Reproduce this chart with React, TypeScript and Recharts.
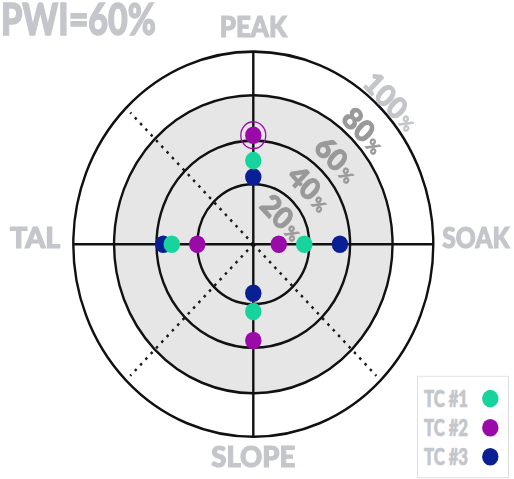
import React from 'react';
import {
  RadarChart,
  Radar,
  PolarGrid,
  PolarAngleAxis,
  PolarRadiusAxis,
  PieChart,
  Pie,
  Legend,
} from 'recharts';

// Profile axes, clockwise from the top
const AXES = ['PEAK', 'SOAK', 'SLOPE', 'TAL'];

// Share of the process window used by each thermocouple (%)
const TC1 = [46, 30, 37, 48];
const TC2 = [60, 15, 53, 33];
const TC3 = [37, 51, 27, 53];

// Percent scale printed along the diagonal
const SCALE_TICKS = [20, 40, 60, 80, 100];
// Reference rings of the target
const RING_LEVELS = [33, 57, 82, 106];
const RADIUS_DOMAIN: [number, number] = [0, 106];

const SERIES = [
  { key: 'tc1', name: 'TC #1', color: '#17d49c' },
  { key: 'tc2', name: 'TC #2', color: '#9a0aa8' },
  { key: 'tc3', name: 'TC #3', color: '#0b1f95' },
];

const DATA = AXES.map((axis, i) => ({ axis, tc1: TC1[i], tc2: TC2[i], tc3: TC3[i] }));
const PWI = Math.max(...TC1, ...TC2, ...TC3);
const DISK = [{ name: 'window', value: 1 }];

const W = 514;
const H = 479;
const CX = 253.3;
const CY = 244.2;
const R_OUTER = 180;
const R_DISK = 139;
const R_DIAG = 174;
const STRETCH = 1.07;
const FONT = 'Lato, Roboto, "Liberation Sans", sans-serif';
const LABEL_GRAY = '#c4c6cb';
const LINE = '#111';

const layer: React.CSSProperties = { position: 'absolute', left: 0, top: 0 };
const MARGIN = { top: 0, right: 0, bottom: 0, left: 0 };

const AngleTick = (props: any) => {
  const { x, y, payload, textAnchor } = props;
  const label = String(payload.value);
  let dx = 0;
  let dy = 0;
  if (textAnchor === 'start') {
    dx = 1;
    dy = 4;
  } else if (textAnchor === 'end') {
    dx = -5;
    dy = 4;
  } else if (y < CY) {
    dy = -6;
  } else {
    dy = 20;
  }
  return (
    <text
      x={x + dx}
      y={y + dy}
      textAnchor={textAnchor}
      fill={LABEL_GRAY}
      stroke={LABEL_GRAY}
      strokeWidth={1}
      fontFamily={FONT}
      fontWeight={900}
      fontSize={26}
      textLength={label.length * 16.8}
      lengthAdjust="spacingAndGlyphs"
    >
      {label}
    </text>
  );
};

const PercentTick = (props: any) => {
  const { x, y, payload } = props;
  const r = Math.hypot(x - CX, y - CY);
  const push = r * 0.13;
  const px = x + Math.SQRT1_2 * push + Math.SQRT1_2 * 3;
  const py = y - Math.SQRT1_2 * push + Math.SQRT1_2 * 3;
  const fs = 28;
  const color = payload.value === 100 ? '#c3c5c9' : '#999999';
  return (
    <text
      x={px}
      y={py}
      dy={fs * 0.36}
      transform={`rotate(45 ${px} ${py})`}
      textAnchor="middle"
      fill={color}
      stroke={color}
      strokeWidth={1}
      fontFamily={FONT}
      fontWeight={900}
      fontSize={fs}
    >
      {payload.value}
      <tspan fontSize={16} dx={2} strokeWidth={0.6}>%</tspan>
    </text>
  );
};

const makeDot = (color: string) => (props: any) => {
  const { cx, cy, index } = props;
  const v =
    props.payload && typeof props.payload.value === 'number' ? props.payload.value : props.value;
  return (
    <g key={`dot-${color}-${index}`}>
      {v === PWI && (
        <circle cx={cx} cy={cy} r={12.5} fill="none" stroke={color} strokeWidth={1.3} />
      )}
      <circle cx={cx} cy={cy} r={8.2} fill={color} />
    </g>
  );
};

const LegendBox = () => (
  <svg width={92} height={96}>
    <rect x={0.5} y={0.5} width={91} height={95} fill="#fff" stroke="#dedede" />
    {SERIES.map((s, i) => {
      const yc = 21.5 + i * 27.2;
      return (
        <g key={s.key}>
          <text
            x={7}
            y={yc + 7.8}
            fill={LABEL_GRAY}
            stroke={LABEL_GRAY}
            strokeWidth={0.7}
            fontFamily={FONT}
            fontWeight={900}
            fontSize={22}
            textLength={44}
            lengthAdjust="spacingAndGlyphs"
          >
            {s.name}
          </text>
          <circle cx={73.3} cy={yc} r={8.2} fill={s.color} />
        </g>
      );
    })}
  </svg>
);

export default function App() {
  return (
    <div
      style={{
        position: 'absolute',
        left: 0,
        top: 0,
        width: W,
        height: H,
        overflow: 'hidden',
        background: '#fff',
      }}
    >
      <div
        style={{
          ...layer,
          width: W,
          height: H,
          transform: `scaleY(${STRETCH})`,
          transformOrigin: `${CX}px ${CY}px`,
        }}
      >
        {/* shaded process window */}
        <div style={layer}>
          <PieChart width={W} height={H} margin={MARGIN}>
            <Pie
              data={DISK}
              dataKey="value"
              cx={CX}
              cy={CY}
              innerRadius={0}
              outerRadius={R_DISK}
              startAngle={0}
              endAngle={360}
              fill="#e6e6e6"
              stroke="none"
              isAnimationActive={false}
              label={false}
              labelLine={false}
            />
          </PieChart>
        </div>

        {/* dotted diagonals */}
        <div style={layer}>
          <RadarChart width={W} height={H} data={DATA} cx={CX} cy={CY} outerRadius={R_DIAG} margin={MARGIN}>
            <PolarGrid
              gridType="circle"
              polarRadius={[]}
              polarAngles={[135, 225, 315]}
              stroke="#1a1a1a"
              strokeWidth={2.4}
              strokeDasharray="2.5 5"
            />
          </RadarChart>
        </div>

        {/* rings, axes and thermocouple readings */}
        <div style={layer}>
          <RadarChart width={W} height={H} data={DATA} cx={CX} cy={CY} outerRadius={R_OUTER} margin={MARGIN}>
            <PolarGrid
              gridType="circle"
              polarAngles={[0, 90, 180, 270]}
              stroke={LINE}
              strokeWidth={2.4}
            />
            <PolarAngleAxis dataKey="axis" tick={AngleTick} axisLine={false} tickLine={false} />
            <PolarRadiusAxis
              domain={RADIUS_DOMAIN}
              allowDataOverflow
              ticks={RING_LEVELS as any}
              tick={false}
              axisLine={false}
            />
            <PolarRadiusAxis
              radiusAxisId="pct"
              domain={RADIUS_DOMAIN}
              allowDataOverflow
              ticks={SCALE_TICKS as any}
              angle={45}
              tick={PercentTick}
              axisLine={false}
            />
            {[...SERIES].reverse().map((s) => (
              <Radar
                key={s.key}
                name={s.name}
                dataKey={s.key}
                stroke="none"
                fill="none"
                dot={makeDot(s.color)}
                isAnimationActive={false}
              />
            ))}
            <Legend
              content={<LegendBox />}
              wrapperStyle={{ left: 416.7, top: 366.5, width: 92, height: 96 }}
            />
          </RadarChart>
        </div>
      </div>

      <svg width={220} height={48} style={{ position: 'absolute', left: 0, top: 0 }}>
        <text
          x={1}
          y={35}
          fill={LABEL_GRAY}
          stroke={LABEL_GRAY}
          strokeWidth={1.4}
          fontFamily={FONT}
          fontWeight={900}
          fontSize={44}
          textLength={155}
          lengthAdjust="spacingAndGlyphs"
        >
          {`PWI=${PWI}%`}
        </text>
      </svg>
    </div>
  );
}
